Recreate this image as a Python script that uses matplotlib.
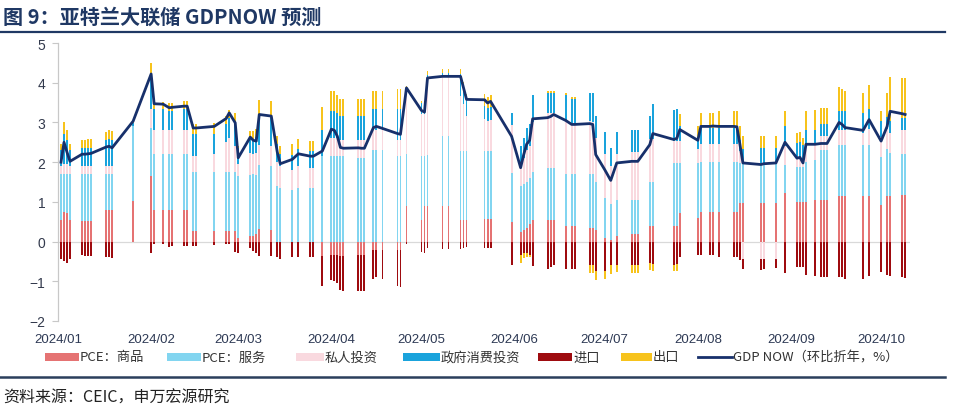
import matplotlib
matplotlib.use("Agg")
import matplotlib.pyplot as plt
import matplotlib.dates as mdates
from matplotlib.patches import Rectangle
from matplotlib.lines import Line2D
import numpy as np
import pandas as pd

plt.rcParams["font.family"] = ["Noto Sans CJK SC", "DejaVu Sans"]

# GDPNow update dates and contributions (pp)
dates = [
    "2024-01-02", "2024-01-03", "2024-01-04", "2024-01-05",
    "2024-01-09", "2024-01-10", "2024-01-11", "2024-01-12",
    "2024-01-17", "2024-01-18", "2024-01-19", "2024-01-26",
    "2024-02-01", "2024-02-02", "2024-02-05", "2024-02-07", "2024-02-08",
    "2024-02-12", "2024-02-13", "2024-02-15", "2024-02-16", "2024-02-22",
    "2024-02-26", "2024-02-27", "2024-02-29",
    "2024-03-01", "2024-03-05", "2024-03-06", "2024-03-07", "2024-03-08",
    "2024-03-12", "2024-03-14", "2024-03-15", "2024-03-19", "2024-03-21",
    "2024-03-25", "2024-03-26", "2024-03-29",
    "2024-04-01", "2024-04-02", "2024-04-03", "2024-04-04", "2024-04-05",
    "2024-04-10", "2024-04-11", "2024-04-12", "2024-04-15", "2024-04-16",
    "2024-04-18", "2024-04-23", "2024-04-24", "2024-04-26",
    "2024-05-01", "2024-05-02", "2024-05-03", "2024-05-08", "2024-05-10",
    "2024-05-14", "2024-05-15", "2024-05-16", "2024-05-22", "2024-05-23",
    "2024-05-24", "2024-05-31",
    "2024-06-03", "2024-06-04", "2024-06-05", "2024-06-06", "2024-06-07",
    "2024-06-12", "2024-06-13", "2024-06-14", "2024-06-18", "2024-06-20",
    "2024-06-21", "2024-06-26", "2024-06-27", "2024-06-28",
    "2024-07-01", "2024-07-03", "2024-07-05", "2024-07-10", "2024-07-11",
    "2024-07-12", "2024-07-16", "2024-07-17", "2024-07-24", "2024-07-25",
    "2024-07-26",
    "2024-08-01", "2024-08-02", "2024-08-05", "2024-08-06", "2024-08-08",
    "2024-08-13", "2024-08-14", "2024-08-15", "2024-08-16", "2024-08-22",
    "2024-08-23", "2024-08-27", "2024-08-30",
    "2024-09-03", "2024-09-04", "2024-09-05", "2024-09-06", "2024-09-09",
    "2024-09-11", "2024-09-12", "2024-09-13", "2024-09-17", "2024-09-18",
    "2024-09-19", "2024-09-25", "2024-09-27",
    "2024-10-01", "2024-10-03", "2024-10-04", "2024-10-08", "2024-10-09",
]

gdpnow = [
    2.00, 2.50, 2.25, 2.02, 2.20, 2.20, 2.21, 2.22, 2.38, 2.40, 2.36, 3.03,
    4.22, 3.47, 3.46, 3.37, 3.38, 3.41, 3.41, 2.86, 2.86, 2.90, 3.10, 3.24, 2.99,
    2.11, 2.63, 2.55, 2.53, 3.20, 3.16, 2.25, 1.96, 2.07, 2.21, 2.15, 2.15, 2.28,
    2.83, 2.80, 2.65, 2.37, 2.35, 2.36, 2.35, 2.35, 2.87, 2.90, 2.85, 2.72, 2.70, 3.87,
    3.30, 3.26, 4.12, 4.16, 4.16, 4.16, 3.87, 3.58, 3.57, 3.49, 3.53, 2.65,
    1.86, 2.18, 2.45, 2.55, 3.09, 3.12, 3.15, 3.20, 3.05, 2.95, 2.95, 2.97, 2.95, 2.19,
    1.81, 1.54, 1.98, 2.02, 2.02, 2.02, 2.44, 2.72, 2.57, 2.60, 2.82,
    2.55, 2.90, 2.90, 2.91, 2.90, 2.90, 2.89, 2.45, 1.98, 1.94, 1.96, 1.98, 2.50,
    2.10, 2.12, 1.98, 2.45, 2.45, 2.47, 2.47, 2.47, 3.00, 2.95, 2.87, 2.80, 3.07,
    2.53, 2.90, 3.28, 3.22, 3.20,
]

pce_goods = [
    0.55, 0.75, 0.72, 0.55, 0.53, 0.53, 0.53, 0.53, 0.79, 0.79, 0.79, 1.02,
    1.65, 0.80, 0.80, 0.80, 0.80, 0.80, 0.80, 0.26, 0.26, 0.26, 0.26, 0.26, 0.26,
    0.10, 0.13, 0.15, 0.18, 0.32, 0.30, 0.00, 0.00, 0.00, 0.00, 0.00, 0.00, -0.37,
    -0.35, -0.35, -0.35, -0.37, -0.37, -0.35, -0.35, -0.35, -0.20, -0.20, -0.20, -0.20, -0.20, 0.90,
    0.55, 0.89, 0.89, 0.89, 0.89, 0.55, 0.55, 0.55, 0.57, 0.57, 0.57, 0.50,
    0.25, 0.30, 0.35, 0.45, 0.55, 0.55, 0.55, 0.55, 0.39, 0.39, 0.39, 0.34, 0.34, 0.30,
    0.10, 0.05, 0.15, 0.20, 0.20, 0.20, 0.39, 0.39, 0.39, 0.39, 0.72,
    0.60, 0.75, 0.75, 0.75, 0.75, 0.75, 0.75, 0.97, 0.97, 0.96, 0.96, 0.96, 1.23,
    0.99, 0.99, 0.99, 1.00, 1.05, 1.05, 1.05, 1.05, 1.14, 1.14, 1.14, 1.14, 1.14,
    0.93, 1.14, 1.14, 1.18, 1.18,
]

pce_services = [
    1.15, 0.95, 0.98, 1.15, 1.16, 1.16, 1.16, 1.16, 0.90, 0.90, 0.90, 1.88,
    1.20, 1.40, 1.40, 1.40, 1.40, 1.40, 1.40, 1.50, 1.50, 1.50, 1.50, 1.50, 1.50,
    1.55, 1.55, 1.55, 1.50, 1.60, 1.60, 1.40, 1.35, 1.31, 1.35, 1.35, 1.35, 2.15,
    2.15, 2.15, 2.15, 2.15, 2.15, 2.10, 2.10, 2.10, 2.30, 2.30, 2.30, 2.15, 2.15, 1.30,
    1.60, 1.26, 1.30, 1.76, 1.76, 1.72, 1.72, 1.72, 1.71, 1.71, 1.71, 1.23,
    1.15, 1.15, 1.15, 1.15, 1.20, 1.31, 1.31, 1.31, 1.30, 1.30, 1.30, 1.35, 1.35, 1.20,
    1.00, 0.90, 0.90, 0.85, 0.85, 0.85, 1.10, 1.10, 1.60, 1.60, 1.26,
    1.38, 1.25, 1.25, 1.25, 1.25, 1.25, 1.25, 1.00, 1.00, 1.02, 1.02, 1.02, 0.71,
    0.90, 0.90, 0.90, 1.00, 1.00, 1.25, 1.25, 1.25, 1.30, 1.30, 1.30, 1.30, 1.30,
    1.20, 1.20, 1.10, 1.02, 1.02,
]

private_inv = [
    0.20, 0.25, 0.25, 0.20, 0.21, 0.21, 0.21, 0.21, 0.21, 0.21, 0.21, 0.00,
    0.50, 0.60, 0.60, 0.60, 0.60, 0.60, 0.60, 0.40, 0.40, 0.45, 0.75, 0.85, 0.65,
    0.30, 0.55, 0.50, 0.55, 0.50, 0.50, 0.60, 0.55, 0.50, 0.55, 0.50, 0.50, 0.00,
    0.45, 0.45, 0.45, 0.40, 0.40, 0.45, 0.45, 0.45, 0.50, 0.50, 0.50, 0.40, 0.40, 1.50,
    1.05, 1.05, 1.70, 1.50, 1.50, 1.40, 1.20, 0.90, 0.80, 0.75, 0.78, 1.20,
    0.50, 0.65, 0.80, 0.80, 1.25, 1.38, 1.38, 1.38, 1.38, 1.28, 1.28, 1.34, 1.32, 1.10,
    1.10, 0.95, 1.15, 1.20, 1.20, 1.20, 1.10, 1.10, 0.55, 0.55, 0.55,
    0.35, 0.45, 0.45, 0.45, 0.45, 0.45, 0.45, 0.30, -0.45, -0.45, -0.45, -0.45, 0.46,
    0.20, 0.20, 0.20, 0.40, 0.40, 0.35, 0.35, 0.35, 0.36, 0.36, 0.36, 0.30, 0.40,
    0.50, 0.50, 0.50, 0.60, 0.60,
]

gov = [
    0.40, 0.75, 0.60, 0.40, 0.45, 0.45, 0.46, 0.46, 0.67, 0.68, 0.66, 0.08,
    0.85, 0.55, 0.55, 0.50, 0.50, 0.55, 0.55, 0.55, 0.55, 0.50, 0.45, 0.50, 0.55,
    0.40, 0.35, 0.38, 0.40, 0.70, 0.70, 0.45, 0.30, 0.38, 0.42, 0.42, 0.42, 0.65,
    0.70, 0.70, 0.65, 0.60, 0.60, 0.60, 0.60, 0.60, 0.55, 0.55, 0.55, 0.80, 0.80, 0.12,
    0.30, 0.30, 0.30, 0.10, 0.10, 0.55, 0.45, 0.45, 0.34, 0.33, 0.33, 0.30,
    0.50, 0.50, 0.55, 0.55, 0.70, 0.50, 0.50, 0.50, 0.63, 0.63, 0.63, 0.72, 0.72, 0.55,
    0.55, 0.45, 0.55, 0.55, 0.55, 0.55, 0.57, 0.87, 0.78, 0.80, 0.37,
    0.30, 0.40, 0.40, 0.40, 0.40, 0.40, 0.40, 0.30, 0.35, 0.38, 0.38, 0.38, 0.50,
    0.40, 0.41, 0.33, 0.40, 0.37, 0.32, 0.32, 0.32, 0.50, 0.50, 0.50, 0.50, 0.50,
    0.40, 0.30, 0.30, 0.30, 0.30,
]

imports = [
    -0.45, -0.50, -0.55, -0.43, -0.35, -0.36, -0.37, -0.36, -0.38, -0.40, -0.42, 0.00,
    -0.28, -0.05, -0.06, -0.13, -0.12, -0.12, -0.12, -0.10, -0.10, -0.08, -0.06, -0.07, -0.25,
    -0.30, -0.15, -0.23, -0.30, -0.37, -0.37, -0.40, -0.44, -0.39, -0.38, -0.38, -0.38, -0.75,
    -0.62, -0.65, -0.70, -0.86, -0.88, -0.89, -0.90, -0.90, -0.73, -0.70, -0.75, -0.93, -0.95, -0.05,
    -0.25, -0.29, -0.17, -0.19, -0.19, -0.18, -0.15, -0.14, -0.15, -0.15, -0.16, -0.58,
    -0.35, -0.28, -0.30, -0.35, -0.61, -0.68, -0.65, -0.60, -0.70, -0.70, -0.70, -0.60, -0.60, -0.74,
    -0.74, -0.60, -0.60, -0.60, -0.60, -0.60, -0.55, -0.57, -0.58, -0.57, -0.38,
    -0.35, -0.34, -0.34, -0.33, -0.38, -0.38, -0.39, -0.47, -0.24, -0.26, -0.24, -0.22, -0.78,
    -0.64, -0.63, -0.64, -0.85, -0.87, -0.90, -0.90, -0.90, -0.90, -0.90, -0.93, -0.94, -0.87,
    -0.77, -0.84, -0.86, -0.90, -0.92,
]

exports = [
    0.15, 0.30, 0.25, 0.15, 0.20, 0.21, 0.22, 0.22, 0.19, 0.22, 0.22, 0.05,
    0.30, 0.17, 0.17, 0.20, 0.20, 0.18, 0.18, 0.25, 0.25, 0.27, 0.20, 0.20, 0.28,
    0.06, 0.20, 0.20, 0.20, 0.45, 0.43, 0.20, 0.20, 0.27, 0.27, 0.26, 0.26, 0.60,
    0.50, 0.50, 0.45, 0.45, 0.45, 0.45, 0.45, 0.45, 0.45, 0.45, 0.45, 0.50, 0.50, 0.10,
    0.05, 0.05, 0.10, 0.10, 0.10, 0.12, 0.10, 0.10, 0.30, 0.28, 0.30, 0.00,
    -0.19, -0.14, -0.10, -0.05, 0.00, 0.06, 0.06, 0.06, 0.05, 0.05, 0.05, -0.18, -0.18, -0.22,
    -0.20, -0.21, -0.17, -0.18, -0.18, -0.18, -0.17, -0.17, -0.17, -0.17, 0.30,
    0.27, 0.39, 0.39, 0.39, 0.43, 0.43, 0.43, 0.35, 0.35, 0.29, 0.29, 0.29, 0.38,
    0.25, 0.25, 0.20, 0.50, 0.50, 0.40, 0.40, 0.40, 0.60, 0.55, 0.50, 0.50, 0.60,
    0.27, 0.60, 1.10, 1.02, 1.02,
]

series_names = ["PCE：商品", "PCE：服务", "私人投资", "政府消费投资", "进口", "出口"]
line_name = "GDP NOW（环比折年，%）"
month_labels = ["2024/01", "2024/02", "2024/03", "2024/04", "2024/05",
                "2024/06", "2024/07", "2024/08", "2024/09", "2024/10"]

colors = ["#E57373", "#82D5F0", "#F9D9DF", "#1AA3DC", "#9E0B0F", "#F7C31C"]
line_color = "#17306B"
navy = "#1F3864"

W, H = 960, 414
fig = plt.figure(figsize=(W / 100, H / 100), dpi=100)
ax = fig.add_axes([58 / W, 1 - 322 / H, (910 - 58) / W, (322 - 44) / H])

x = mdates.date2num(pd.to_datetime(dates))
stacks = [pce_goods, pce_services, private_inv, gov, imports, exports]
pos_base = np.zeros(len(x))
neg_base = np.zeros(len(x))
for vals, c in zip(stacks, colors):
    v = np.array(vals, dtype=float)
    pos = np.where(v > 0, v, 0.0)
    neg = np.where(v < 0, v, 0.0)
    ax.bar(x, pos, width=0.62, bottom=pos_base, color=c, linewidth=0, zorder=2)
    ax.bar(x, neg, width=0.62, bottom=neg_base, color=c, linewidth=0, zorder=2)
    pos_base += pos
    neg_base += neg

ax.plot(x, gdpnow, color=line_color, lw=2.0, zorder=3)
ax.axhline(0, color="#D9D9D9", lw=0.9, zorder=1)

x0 = mdates.date2num(pd.Timestamp("2024-01-01"))
ax.set_xlim(x0, x0 + (910 - 58) / 3.004)
ax.set_ylim(-2, 5)
ax.set_yticks(range(-2, 6))

month_starts = mdates.date2num(pd.date_range("2024-01-01", periods=10, freq="MS"))
ax.set_xticks(month_starts)
ax.set_xticklabels(month_labels)

for s in ["top", "right", "bottom"]:
    ax.spines[s].set_visible(False)
ax.spines["left"].set_color("#C8C8C8")
ax.spines["left"].set_linewidth(0.9)
ax.tick_params(axis="y", length=4, color="#C8C8C8", pad=5, labelsize=10,
               labelcolor="#333A4D", labelfontfamily="Liberation Sans")
ax.tick_params(axis="x", length=0, pad=9, labelsize=9.5,
               labelcolor="#2E3A55", labelfontfamily="Liberation Sans")

# title and rules
fig.text(3 / W, 1 - 17 / H, "图 9：亚特兰大联储 GDPNOW 预测", fontsize=14.5,
         fontweight="bold", color=navy, va="center", ha="left")
fig.add_artist(Line2D([0, 945 / W], [1 - 33 / H] * 2, color=navy, lw=1.6,
                      transform=fig.transFigure))
fig.add_artist(Line2D([0, 945 / W], [1 - 378 / H] * 2, color="#2B3F5C", lw=1.8,
                      transform=fig.transFigure))

# legend (drawn by hand to match spacing)
ly = 1 - 358 / H
sw_h = 8 / H
swatches = [(45, 79), (167, 201), (296, 324), (403, 440), (538, 572), (621, 652)]
for (a, b), c, name in zip(swatches, colors, series_names):
    fig.add_artist(Rectangle((a / W, ly - sw_h / 2), (b - a) / W, sw_h,
                             facecolor=c, edgecolor="none", transform=fig.transFigure))
    fig.text((b + 1) / W, ly, name, fontsize=9.5, color="#333333",
             va="center", ha="left")
fig.add_artist(Line2D([698 / W, 732 / W], [ly, ly], color=line_color, lw=2.0,
                      transform=fig.transFigure))
fig.text(733 / W, ly, line_name, fontsize=9.5, color="#333333", va="center", ha="left")

fig.text(3 / W, 1 - 398 / H, "资料来源：CEIC，申万宏源研究", fontsize=11.5,
         color="#222222", va="center", ha="left")

fig.savefig("out.png", dpi=100)
